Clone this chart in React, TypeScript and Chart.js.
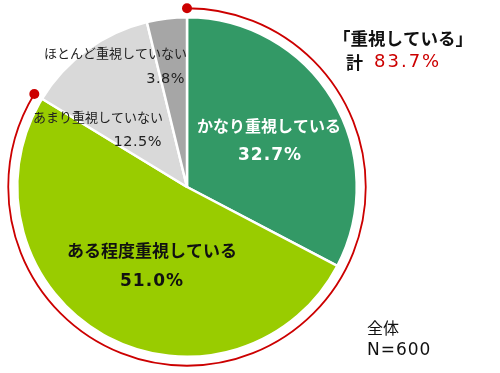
import React, { useEffect, useRef } from "react";
import { Chart, registerables } from "chart.js";

Chart.register(...registerables);

const categories = ["かなり重視している", "ある程度重視している", "あまり重視していない", "ほとんど重視していない"];
const values = [32.7, 51.0, 12.5, 3.8];
const colors = ["#339966", "#99CC00", "#D9D9D9", "#A6A6A6"];
const summaryTitle = "「重視している」";
const summaryPrefix = "計";
const sampleLabel = "全体";
const sampleSize = "N=600";

const JP = '"Noto Sans CJK JP", sans-serif';
const NUM = '"DejaVu Sans", "Noto Sans CJK JP", sans-serif';

const overlayPlugin = {
  id: "overlay",
  afterDraw(chart: any) {
    const ctx = chart.ctx;
    const meta = chart.getDatasetMeta(0);
    const a0 = meta.data[0] as any;
    const a1 = meta.data[1] as any;
    const cx = a0.x;
    const cy = a0.y;
    const R = a0.outerRadius + 9;
    const start = a0.startAngle;
    const end = a1.endAngle;

    ctx.save();
    // red arc over "重視している" slices
    ctx.strokeStyle = "#CC0000";
    ctx.lineWidth = 1.8;
    ctx.beginPath();
    ctx.arc(cx, cy, R, start, end);
    ctx.stroke();
    ctx.fillStyle = "#CC0000";
    for (const ang of [start, end]) {
      ctx.beginPath();
      ctx.arc(cx + R * Math.cos(ang), cy + R * Math.sin(ang), 5, 0, Math.PI * 2);
      ctx.fill();
    }

    const fmt = (v: number) => v.toFixed(1) + "%";
    const text = (s: string, x: number, y: number, font: string, color: string, align: CanvasTextAlign, ls = "0px") => {
      ctx.font = font;
      ctx.fillStyle = color;
      ctx.textAlign = align;
      ctx.textBaseline = "middle";
      (ctx as any).letterSpacing = ls;
      ctx.fillText(s, x, y);
    };

    // slice labels
    text(categories[0], cx + 82, cy - 61, `bold 16px ${JP}`, "#FFFFFF", "center");
    text(fmt(values[0]), cx + 83, cy - 31, `bold 17px ${NUM}`, "#FFFFFF", "center", "1px");
    text(categories[1], cx - 35, cy + 64, `bold 17px ${JP}`, "#111111", "center");
    text(fmt(values[1]), cx - 35, cy + 95, `bold 17px ${NUM}`, "#111111", "center", "1px");
    text(categories[2], cx - 24, cy - 70, `13px ${JP}`, "#222222", "right");
    text(fmt(values[2]), cx - 25, cy - 45, `14.5px ${NUM}`, "#222222", "right", "0.5px");
    text(categories[3], cx + 0, cy - 134, `13px ${JP}`, "#222222", "right");
    text(fmt(values[3]), cx - 2, cy - 108, `14.5px ${NUM}`, "#222222", "right", "0.5px");

    // summary
    const total = values[0] + values[1];
    text(summaryTitle, 333, 38, `bold 17.5px ${JP}`, "#111111", "left");
    text(summaryPrefix, 346, 63, `bold 17px ${JP}`, "#111111", "left");
    text(fmt(total), 374, 62, `18px ${NUM}`, "#CC0000", "left", "2px");

    // sample
    text(sampleLabel, 367, 328, `16px ${JP}`, "#111111", "left");
    text(sampleSize, 367, 351, `17px ${NUM}`, "#111111", "left", "1px");
    ctx.restore();
  },
};

export default function App() {
  const ref = useRef<HTMLCanvasElement | null>(null);
  useEffect(() => {
    if (!ref.current) return;
    const chart = new Chart(ref.current, {
      type: "pie",
      data: {
        labels: categories,
        datasets: [
          {
            data: values,
            backgroundColor: colors,
            borderColor: "#FFFFFF",
            borderWidth: 2.5,
          },
        ],
      },
      options: {
        responsive: false,
        animation: false,
        layout: { padding: { left: 16, top: 16, right: 142, bottom: 15 } },
        plugins: {
          legend: { display: false },
          tooltip: { enabled: false },
        },
      },
      plugins: [overlayPlugin],
    });
    return () => chart.destroy();
  }, []);
  return (
    <div style={{ position: "fixed", left: 0, top: 0, width: 500, height: 373, background: "#fff" }}>
      <canvas ref={ref} width={500} height={373} style={{ display: "block" }} />
    </div>
  );
}
